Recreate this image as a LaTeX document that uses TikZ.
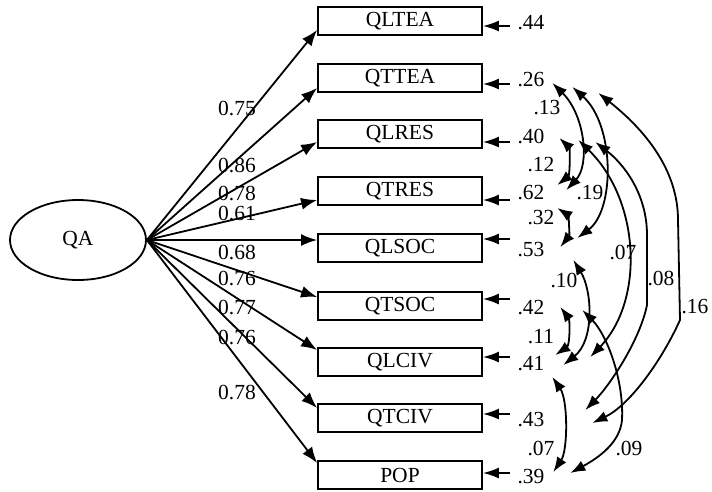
\documentclass[tikz,border=0pt]{standalone}
\usepackage{fontspec}
\setmainfont{Liberation Serif}
\usetikzlibrary{arrows.meta,shapes.geometric,calc}

\begin{document}
\begin{tikzpicture}[x=1pt,y=-1pt,line width=1.8pt,font=\fontsize{21.5}{25}\selectfont,
	lat/.style={draw,ellipse,minimum width=136pt,minimum height=80pt,inner sep=0pt},
	obs/.style={draw,minimum width=164pt,minimum height=28pt,inner sep=0pt},
	num/.style={inner sep=0pt},
	load/.style={-{Latex[length=16pt,width=12pt]}},
	err/.style={-{Latex[length=16pt,width=11pt]},shorten <=7pt},
	cov/.style={{Latex[length=15pt,width=11pt]}-{Latex[length=15pt,width=11pt]}}]
	\useasboundingbox (0,0) rectangle (712,491);
	\node[lat] (QA) at (78,240) {QA};
	\foreach \v/\y/\e/\d/\f in {QLTEA/21/.44/-9/-5, QTTEA/78/.26/-10/-6, QLRES/134/.40/-8/-8, QTRES/191/.62/-9/-9, QLSOC/248/.53/8/9, QTSOC/306/.42/9/7, QLCIV/362/.41/12/5, QTCIV/418/.43/10/4, POP/475/.39/12/2}{
		\node[obs] (\v) at (400,\y) {\v};
		\node[num] (e\v) at (531,\y+2) {\e};
		\draw[load] (QA.east) -- ([yshift=\d*1pt]\v.west);
		\draw[err] ([yshift={(\f+2)*1pt}]e\v.west) -- ([yshift=\f*1pt]\v.east);
	}
	\foreach \w/\y [count=\i] in {0.75/108, 0.86/165, 0.78/193, 0.61/213, 0.68/252, 0.76/278, 0.77/307, 0.76/337, 0.78/392}
		\node[num] (w\i) at (237,\y) {\w};
	% correlated errors
	\draw[cov] ($(eQTTEA.east)+(7,3)$) .. controls (585,115) and (590,165) .. ($(eQTRES.east)+(21,-3)$);
	\draw[cov] ($(eQLRES.east)+(14,2)$) .. controls (570,148) and (570,175) .. ($(eQTRES.east)+(12,-8)$);
	\draw[cov] ($(eQTRES.east)+(12,15)$) .. controls (568,215) and (570,235) .. ($(eQLSOC.east)+(15,-3)$);
	\draw[cov] ($(eQTTEA.east)+(27,7)$) .. controls (615,125) and (615,210) .. ($(eQLSOC.east)+(32,-12)$);
	\draw[cov] ($(eQLRES.east)+(33,4)$) .. controls (640,200) and (645,300) .. ($(eQLCIV.east)+(45,-7)$);
	\draw[cov] ($(eQLRES.east)+(50,6)$) .. controls (625,165) and (647,195) .. (647,235) -- (647,305) .. controls (640,340) and (610,385) .. ($(eQTCIV.east)+(40,-10)$);
	\draw[cov] ($(eQTTEA.east)+(53,13)$) .. controls (645,130) and (678,170) .. (678,220) -- (680,320) .. controls (662,360) and (630,405) .. ($(eQTCIV.east)+(47,3)$);
	\draw[cov] ($(eQLSOC.east)+(28,10)$) .. controls (592,290) and (595,340) .. ($(eQLCIV.east)+(18,1)$);
	\draw[cov] ($(eQTSOC.east)+(15,-1)$) .. controls (570,320) and (570,345) .. ($(eQLCIV.east)+(10,-9)$);
	\draw[cov] ($(eQTSOC.east)+(37,2)$) .. controls (607,335) and (624,380) .. (622,420) .. controls (620,442) and (600,457) .. ($(ePOP.east)+(25,-4)$);
	\draw[cov] ($(eQLCIV.east)+(7,13)$) .. controls (568,400) and (568,450) .. ($(ePOP.east)+(8,-5)$);
	\foreach \c/\x/\y [count=\i] in {.13/547/108, .12/541/165, .19/590/193, .32/541/218, .07/623/252, .10/564/280, .08/661/278, .16/695/307, .11/541/337, .07/541/448, .09/629/448}
		\node[num] (c\i) at (\x,\y) {\c};
\end{tikzpicture}
\end{document}
